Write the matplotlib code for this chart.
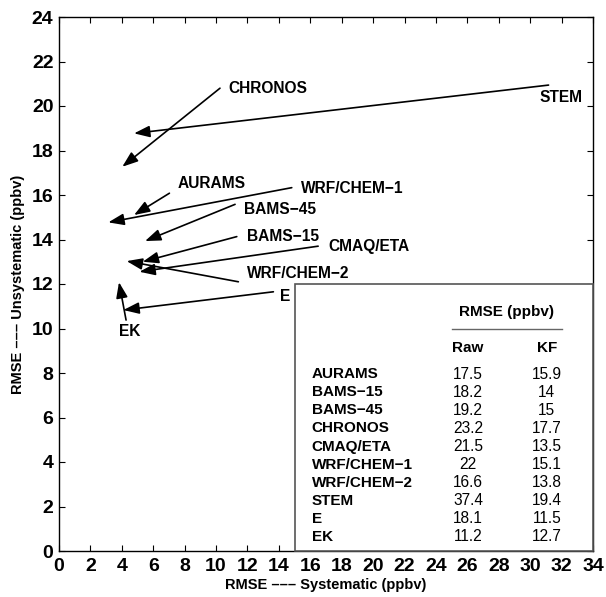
import matplotlib
matplotlib.use("Agg")
import matplotlib.pyplot as plt
from matplotlib.patches import Rectangle, ArrowStyle

plt.rcParams['font.family'] = ['Liberation Sans', 'DejaVu Sans']

# ---- data ----
models = ["AURAMS", "BAMS\u221215", "BAMS\u221245", "CHRONOS", "CMAQ/ETA",
          "WRF/CHEM\u22121", "WRF/CHEM\u22122", "STEM", "E", "EK"]
raw_rmse = ["17.5", "18.2", "19.2", "23.2", "21.5", "22", "16.6", "37.4", "18.1", "11.2"]
kf_rmse = ["15.9", "14", "15", "17.7", "13.5", "15.1", "13.8", "19.4", "11.5", "12.7"]

# systematic / unsystematic components (raw -> KF)
raw_sys   = [7.03, 11.32, 11.21, 10.25, 16.50, 14.82, 11.42, 31.17, 13.65, 4.27]
raw_unsys = [16.08, 14.13, 15.58, 20.80, 13.70, 16.33, 12.10, 20.94, 11.65, 10.38]
kf_sys    = [4.78, 5.33, 5.48, 4.03, 5.12, 3.14, 4.31, 4.78, 4.10, 3.82]
kf_unsys  = [15.10, 13.00, 13.93, 17.27, 12.55, 14.77, 13.03, 18.77, 10.83, 12.08]

# label anchor positions (left-aligned, vertically centred)
label_x = [7.54, 11.95, 11.80, 10.78, 17.15, 15.39, 11.95, 30.60, 14.08, 3.84]
label_y = [16.53, 14.13, 15.37, 20.80, 13.68, 16.30, 12.48, 20.36, 11.43, 9.86]

xticks = list(range(0, 35, 2))
yticks = list(range(0, 25, 2))

fig = plt.figure(figsize=(6.06, 5.97), dpi=100)
ax = fig.add_axes([59/606, 1-551/597, (593-59)/606, (551-17)/597])
ax.set_xlim(0, 34)
ax.set_ylim(0, 24)
ax.set_xticks(xticks)
ax.set_yticks(yticks)
ax.tick_params(direction='in', top=True, right=True, length=4, width=0.8,
               labelsize=14, pad=4)
ax.tick_params(axis='x', pad=5)
for lab in ax.get_xticklabels() + ax.get_yticklabels():
    lab.set_fontweight('bold')
for sp in ax.spines.values():
    sp.set_linewidth(1.0)

ax.set_xlabel("RMSE \u2013\u2013\u2013 Systematic (ppbv)", fontsize=10.5,
              fontweight='bold', labelpad=2)
ax.set_ylabel("RMSE \u2013\u2013\u2013 Unsystematic (ppbv)", fontsize=10.5,
              fontweight='bold', labelpad=5)

style = ArrowStyle('-|>', head_length=0.95, head_width=0.35)
for i in range(len(models)):
    ax.annotate("", xy=(kf_sys[i], kf_unsys[i]), xytext=(raw_sys[i], raw_unsys[i]),
                arrowprops=dict(arrowstyle=style, mutation_scale=10, lw=1.2,
                                color='black', shrinkA=0, shrinkB=0))
    ax.text(label_x[i], label_y[i], models[i], fontsize=11.2, fontweight='bold',
            ha='left', va='center')

# table box
ax.add_patch(Rectangle((15, 0), 19, 12, fill=True, facecolor='white',
                       edgecolor='#555555', lw=1.2, zorder=3, clip_on=False))
ax.text(28.5, 10.76, "RMSE (ppbv)", fontsize=11, fontweight='bold',
        ha='center', va='center', zorder=4)
ax.plot([25.05, 32.02], [9.96, 9.96], color='#666666', lw=1.0, zorder=4)
ax.text(26.05, 9.11, "Raw", fontsize=11, fontweight='bold', ha='center', va='center', zorder=4)
ax.text(31.1, 9.11, "KF", fontsize=11, fontweight='bold', ha='center', va='center', zorder=4)
row0 = 7.94
step = 0.811
for i, m in enumerate(models):
    y = row0 - i * step
    ax.text(16.1, y, m, fontsize=11, fontweight='bold', ha='left', va='center', zorder=4)
    ax.text(26.05, y, raw_rmse[i], fontsize=11.2, ha='center', va='center', zorder=4)
    ax.text(31.06, y, kf_rmse[i], fontsize=11.2, ha='center', va='center', zorder=4)

fig.savefig("out.png", dpi=100)
